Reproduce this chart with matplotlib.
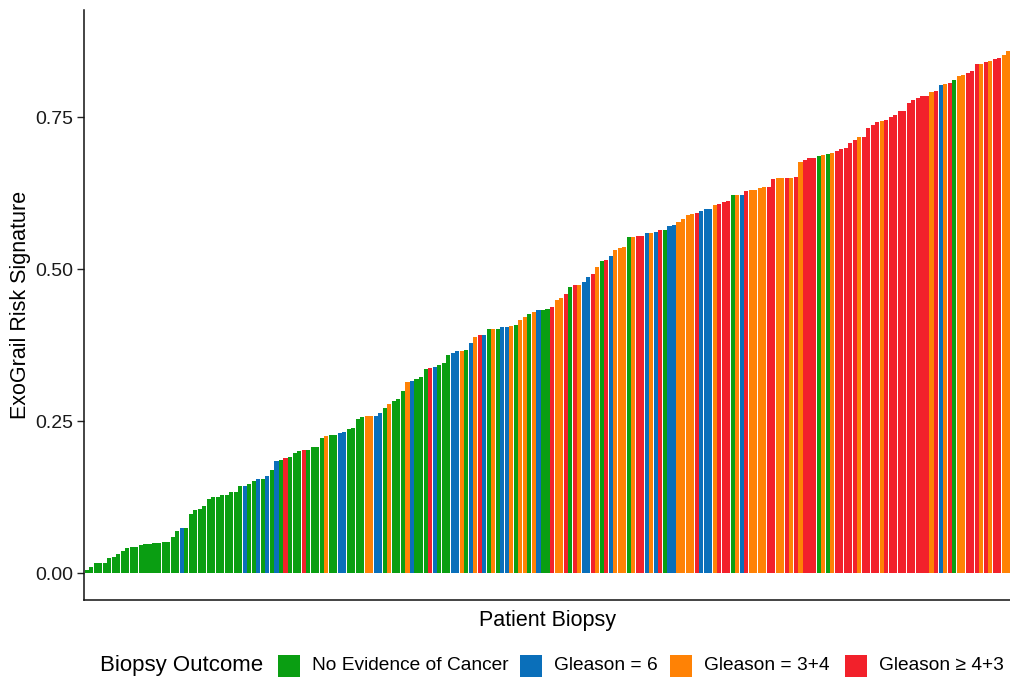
import matplotlib
matplotlib.use("Agg")
import matplotlib.pyplot as plt
from matplotlib.patches import Rectangle
import numpy as np

plt.rcParams['font.family'] = ['Liberation Sans', 'DejaVu Sans']

# --- colours per outcome ---------------------------------------------
C_NONE = '#0A9E12'   # no evidence of cancer
C_G6   = '#0A6FBA'   # gleason = 6
C_G34  = '#FF8205'   # gleason = 3+4
C_G43  = '#F2212B'   # gleason >= 4+3
outcome_colors = {'N': C_NONE, 'B': C_G6, 'O': C_G34, 'R': C_G43}

outcome_labels = ['No Evidence of Cancer', 'Gleason = 6', 'Gleason = 3+4', 'Gleason \u2265 4+3']

# --- data: sorted risk scores and the biopsy outcome of each patient --
risk_score = [
    0.005, 0.010, 0.017, 0.017, 0.017, 0.025, 0.026, 0.031, 0.036, 0.041,
    0.043, 0.044, 0.046, 0.048, 0.048, 0.049, 0.050, 0.052, 0.052, 0.059,
    0.070, 0.074, 0.074, 0.097, 0.104, 0.105, 0.111, 0.122, 0.125, 0.126,
    0.128, 0.128, 0.133, 0.134, 0.143, 0.143, 0.147, 0.151, 0.155, 0.155,
    0.160, 0.169, 0.185, 0.187, 0.190, 0.191, 0.198, 0.201, 0.202, 0.203,
    0.208, 0.208, 0.223, 0.225, 0.227, 0.228, 0.230, 0.233, 0.238, 0.239,
    0.253, 0.257, 0.258, 0.258, 0.259, 0.263, 0.271, 0.278, 0.283, 0.287,
    0.300, 0.314, 0.316, 0.320, 0.323, 0.336, 0.338, 0.339, 0.343, 0.346,
    0.359, 0.363, 0.365, 0.365, 0.367, 0.379, 0.388, 0.391, 0.391, 0.401,
    0.401, 0.402, 0.405, 0.405, 0.406, 0.408, 0.417, 0.422, 0.426, 0.429,
    0.433, 0.433, 0.434, 0.438, 0.449, 0.452, 0.459, 0.471, 0.474, 0.474,
    0.479, 0.488, 0.492, 0.504, 0.513, 0.515, 0.521, 0.531, 0.535, 0.537,
    0.553, 0.553, 0.554, 0.555, 0.559, 0.560, 0.561, 0.565, 0.565, 0.571,
    0.573, 0.577, 0.582, 0.589, 0.591, 0.592, 0.595, 0.599, 0.599, 0.605,
    0.607, 0.610, 0.612, 0.622, 0.622, 0.622, 0.628, 0.630, 0.631, 0.634,
    0.636, 0.636, 0.648, 0.650, 0.650, 0.650, 0.650, 0.652, 0.676, 0.680,
    0.683, 0.683, 0.686, 0.688, 0.689, 0.691, 0.694, 0.697, 0.700, 0.707,
    0.713, 0.717, 0.717, 0.733, 0.737, 0.742, 0.744, 0.746, 0.750, 0.753,
    0.760, 0.760, 0.774, 0.779, 0.781, 0.785, 0.785, 0.792, 0.793, 0.803,
    0.805, 0.807, 0.811, 0.817, 0.819, 0.822, 0.826, 0.837, 0.837, 0.840,
    0.842, 0.846, 0.847, 0.852, 0.859,
]
# N = no evidence, B = gleason 6, O = gleason 3+4, R = gleason >= 4+3
outcome = list(
    "NNNNNNNNNN" "NNNNNNNNNN" "NBNNNNNNNN" "NNNNNBNNBN"
    "BNBNRNNNRN" "NNNONNBBNN" "NNOOBBNONN" "NOBNNNRBNN"
    "NBBONBORBN" "ONBBONOONO" "BNNROORNRO" "BBRONRBOOO"
    "NORRBOBRNB" "BOOOORBBBO" "RRRNOBROOO" "ORROOROROR"
    "RRNONORRRR" "RORRRRORRR" "RRRRRRRORB" "ORNOORRROR"
    "ORROO"
)

x = np.arange(len(risk_score))
bar_colors = [outcome_colors[o] for o in outcome]

fig = plt.figure(figsize=(10.1, 6.77), dpi=100)
ax = fig.add_axes([0.0832, 0.1137, 0.9178, 0.8713])

ax.bar(x, risk_score, width=0.9, color=bar_colors, edgecolor='none')

ax.set_xlim(-0.6, len(risk_score) - 0.4)
ax.set_ylim(-0.044, 0.926)
ax.set_xticks([])
ax.set_yticks([0, 0.25, 0.5, 0.75])
ax.set_yticklabels(['0.00', '0.25', '0.50', '0.75'])
ax.tick_params(axis='y', length=5, width=1, color='#222222',
               labelsize=14, labelcolor='#1a1a1a', pad=3)

for s in ['top', 'right']:
    ax.spines[s].set_visible(False)
for s in ['left', 'bottom']:
    ax.spines[s].set_linewidth(1.1)
    ax.spines[s].set_color('#111111')

ax.set_ylabel('ExoGrail Risk Signature', fontsize=15.5, labelpad=3)
ax.set_xlabel('Patient Biopsy', fontsize=15.5, labelpad=7)

# --- legend along the bottom -----------------------------------------
H = 677.0
W = 1010.0
fig.text(100 / W, 1 - 665 / H, 'Biopsy Outcome', fontsize=16,
         ha='left', va='center')
key_x = [278, 520, 670, 845]
for kx, lab, col in zip(key_x, outcome_labels,
                        [C_NONE, C_G6, C_G34, C_G43]):
    fig.patches.append(Rectangle((kx / W, 1 - 677 / H), 22 / W, 22 / H,
                                 transform=fig.transFigure, facecolor=col,
                                 edgecolor='none'))
    fig.text((kx + 34) / W, 1 - 665 / H, lab, fontsize=13.8,
             ha='left', va='center')

fig.savefig('out.png', dpi=100)
